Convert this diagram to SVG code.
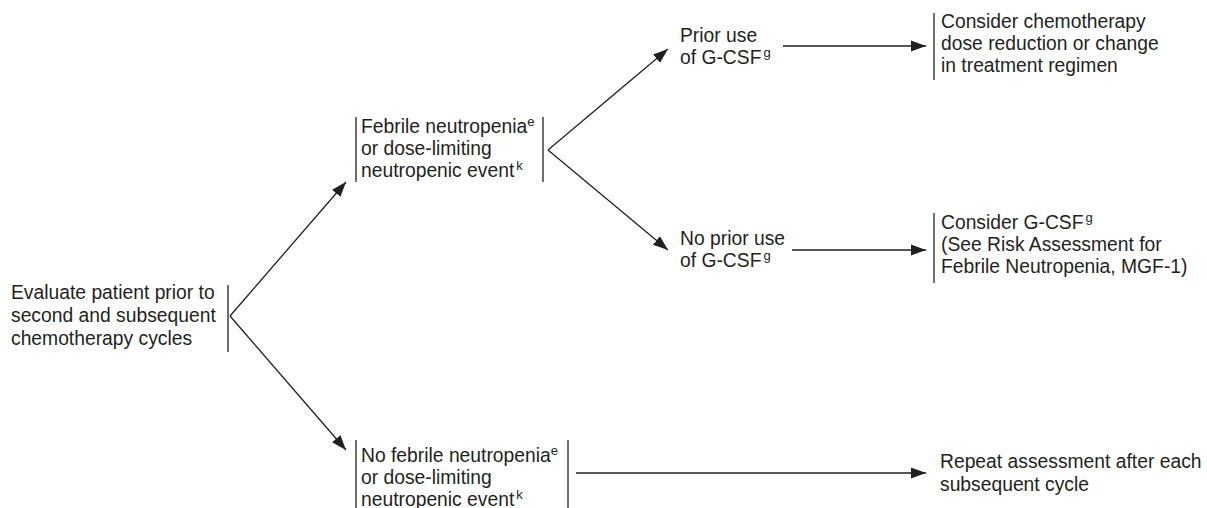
<svg xmlns="http://www.w3.org/2000/svg" width="1207" height="508" viewBox="0 0 1207 508">
<style>
text{font-family:"Liberation Sans",Arial,sans-serif;font-size:19.3px;fill:#231f20}
.sup{font-size:13px}
.bar,.ln{stroke:#231f20;stroke-width:1.3;fill:none}
</style>
<defs>
<marker id="ah" markerUnits="userSpaceOnUse" markerWidth="16" markerHeight="12" refX="15" refY="6" orient="auto">
<path d="M0,0.5 L15,6 L0,11.5 Z" fill="#231f20"/>
</marker>
</defs>
<rect width="1207" height="508" fill="#fff"/>
<g id="connectors">
<line class="ln" x1="230" y1="316" x2="346" y2="182" marker-end="url(#ah)"/>
<line class="ln" x1="230" y1="316" x2="346" y2="450" marker-end="url(#ah)"/>
<line class="ln" x1="548" y1="150" x2="668" y2="49" marker-end="url(#ah)"/>
<line class="ln" x1="548" y1="150" x2="668" y2="250" marker-end="url(#ah)"/>
<line class="ln" x1="783" y1="46" x2="926" y2="46" marker-end="url(#ah)"/>
<line class="ln" x1="792" y1="250" x2="926" y2="250" marker-end="url(#ah)"/>
<line class="ln" x1="576" y1="473" x2="926" y2="473" marker-end="url(#ah)"/>
</g>
<g id="n-evaluate">
<text x="11" y="299">Evaluate patient prior to</text>
<text x="11" y="322">second and subsequent</text>
<text x="11" y="345">chemotherapy cycles</text>
<line class="bar" x1="228" y1="285" x2="228" y2="352"/>
</g>
<g id="n-febrile">
<line class="bar" x1="356" y1="117" x2="356" y2="182"/>
<text x="361" y="133">Febrile neutropenia<tspan class="sup" dy="-7">e</tspan></text>
<text x="361" y="155">or dose-limiting</text>
<text x="361" y="177">neutropenic event<tspan class="sup" dx="2" dy="-7">k</tspan></text>
<line class="bar" x1="543" y1="117" x2="543" y2="182"/>
</g>
<g id="n-nofebrile">
<line class="bar" x1="356" y1="440" x2="356" y2="508"/>
<text x="361" y="462">No febrile neutropenia<tspan class="sup" dy="-7">e</tspan></text>
<text x="361" y="484">or dose-limiting</text>
<text x="361" y="506">neutropenic event<tspan class="sup" dx="2" dy="-7">k</tspan></text>
<line class="bar" x1="568" y1="440" x2="568" y2="508"/>
</g>
<g id="n-prior">
<text x="680" y="42">Prior use</text>
<text x="680" y="64">of G-CSF<tspan class="sup" dx="2" dy="-7">g</tspan></text>
</g>
<g id="n-noprior">
<text x="680" y="245">No prior use</text>
<text x="680" y="267">of G-CSF<tspan class="sup" dx="2" dy="-7">g</tspan></text>
</g>
<g id="n-reduce">
<line class="bar" x1="934" y1="13" x2="934" y2="80"/>
<text x="941" y="28">Consider chemotherapy</text>
<text x="941" y="50">dose reduction or change</text>
<text x="941" y="72">in treatment regimen</text>
</g>
<g id="n-gcsf">
<line class="bar" x1="934" y1="213" x2="934" y2="283"/>
<text x="941" y="229">Consider G-CSF<tspan class="sup" dx="2" dy="-7">g</tspan></text>
<text x="941" y="251">(See Risk Assessment for</text>
<text x="941" y="273">Febrile Neutropenia, MGF-1)</text>
</g>
<g id="n-repeat">
<text x="940" y="468">Repeat assessment after each</text>
<text x="940" y="491">subsequent cycle</text>
</g>
</svg>
